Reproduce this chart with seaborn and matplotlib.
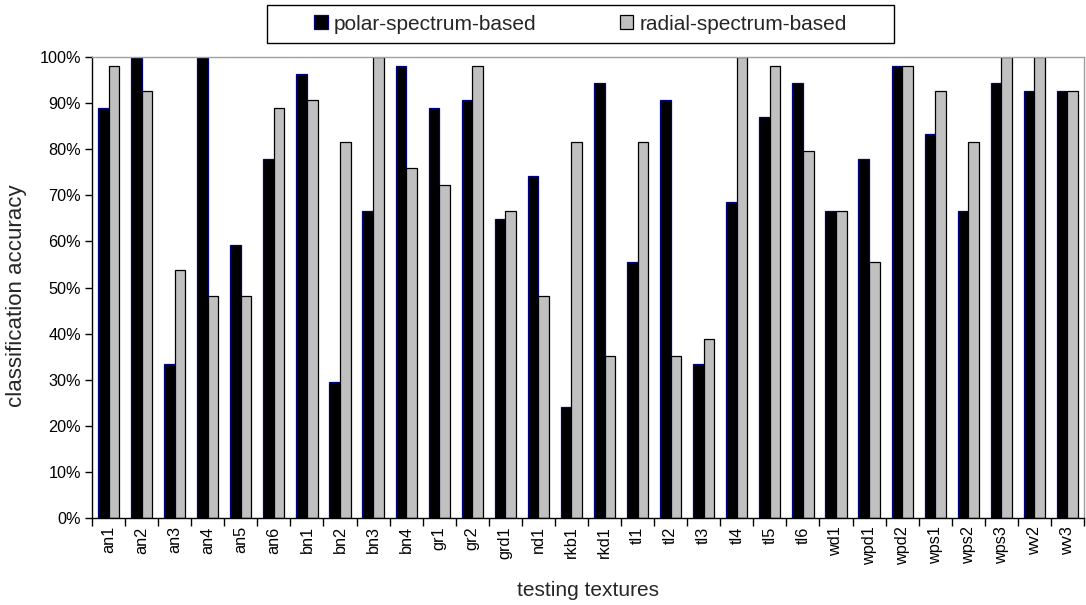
import matplotlib
matplotlib.use("Agg")
import matplotlib.pyplot as plt
from matplotlib.patches import Patch, Rectangle
from matplotlib.ticker import PercentFormatter, FixedLocator, NullFormatter
import seaborn as sns
import pandas as pd
import numpy as np

textures = ["an1", "an2", "an3", "an4", "an5", "an6", "bn1", "bn2", "bn3", "bn4",
            "gr1", "gr2", "grd1", "nd1", "rkb1", "rkd1", "tl1", "tl2", "tl3", "tl4",
            "tl5", "tl6", "wd1", "wpd1", "wpd2", "wps1", "wps2", "wps3", "wv2", "wv3"]

polar = [88.9, 100.0, 33.3, 100.0, 59.3, 77.8, 96.3, 29.6, 66.7, 98.1,
         88.9, 90.7, 64.8, 74.1, 24.1, 94.4, 55.6, 90.7, 33.3, 68.5,
         87.0, 94.4, 66.7, 77.8, 98.1, 83.3, 66.7, 94.4, 92.6, 92.6]

radial = [98.1, 92.6, 53.7, 48.1, 48.1, 88.9, 90.7, 81.5, 100.0, 75.9,
          72.2, 98.1, 66.7, 48.1, 81.5, 35.2, 81.5, 35.2, 38.9, 100.0,
          98.1, 79.6, 66.7, 55.6, 98.1, 92.6, 81.5, 100.0, 100.0, 92.6]

methods = ["polar-spectrum-based", "radial-spectrum-based"]
face_colors = ["#000000", "#C0C0C0"]
edge_colors = ["#000080", "#000000"]

df = pd.DataFrame({
    "texture": textures * 2,
    "accuracy": polar + radial,
    "method": [methods[0]] * len(textures) + [methods[1]] * len(textures),
})

sns.set_style("white")
plt.rcParams["font.family"] = ["Liberation Sans", "DejaVu Sans"]

fig = plt.figure(figsize=(10.86, 6.05), dpi=100)
ax = fig.add_axes([92 / 1086, 1 - 518 / 605, 992 / 1086, 461 / 605])

sns.barplot(data=df, x="texture", y="accuracy", hue="method", order=textures,
            hue_order=methods, palette=face_colors, width=0.64, saturation=1,
            errorbar=None, ax=ax)

for container, ec in zip(ax.containers, edge_colors):
    for bar in container:
        bar.set_edgecolor(ec)
        bar.set_linewidth(0.9)

if ax.get_legend() is not None:
    ax.get_legend().remove()

ax.set_xlim(-0.5, len(textures) - 0.5)
ax.set_ylim(0, 100)
ax.yaxis.set_major_locator(FixedLocator(np.arange(0, 101, 10)))
ax.yaxis.set_major_formatter(PercentFormatter(100, decimals=0))

# x ticks: labels at category centres, tick marks between categories
ax.tick_params(axis="x", which="major", length=0, pad=6, labelsize=11.7,
               labelrotation=90, labelcolor="black")
ax.xaxis.set_minor_locator(FixedLocator(np.arange(-0.5, len(textures), 1.0)))
ax.xaxis.set_minor_formatter(NullFormatter())
ax.tick_params(axis="x", which="minor", length=6, width=1, color="black",
               direction="out", bottom=True)
ax.tick_params(axis="y", which="major", length=5, width=1, color="black",
               direction="out", left=True, labelsize=11.7, labelcolor="black", pad=3)

for side in ["left", "bottom"]:
    ax.spines[side].set_color("black")
    ax.spines[side].set_linewidth(1)
for side in ["top", "right"]:
    ax.spines[side].set_color("#A0A0A0")
    ax.spines[side].set_linewidth(1)

ax.set_xlabel("testing textures", fontsize=15)
ax.set_ylabel("classification accuracy", fontsize=16)
ax.xaxis.set_label_coords(0.5, -(591 - 518) / 461)
ax.xaxis.label.set_va("center")
ax.yaxis.set_label_coords((17 - 92) / 992, (518 - 296) / 461)
ax.yaxis.label.set_va("center")

# legend inside a plain rectangular box above the plot
handles = [Patch(facecolor=fc, edgecolor=ec, linewidth=0.9)
           for fc, ec in zip(face_colors, edge_colors)]
fig.add_artist(Rectangle((267 / 1086, 1 - 43 / 605), (894 - 267) / 1086, 38 / 605,
                         transform=fig.transFigure, facecolor="white",
                         edgecolor="black", linewidth=1))
fig.legend(handles, methods, loc="center",
           bbox_to_anchor=((267 + 894) / 2 / 1086, 1 - 24 / 605),
           ncol=2, frameon=False, fontsize=15, handlelength=0.65,
           handleheight=0.65, handletextpad=0.3, columnspacing=4.0,
           borderpad=0, borderaxespad=0)

fig.savefig("out.png", dpi=100)
